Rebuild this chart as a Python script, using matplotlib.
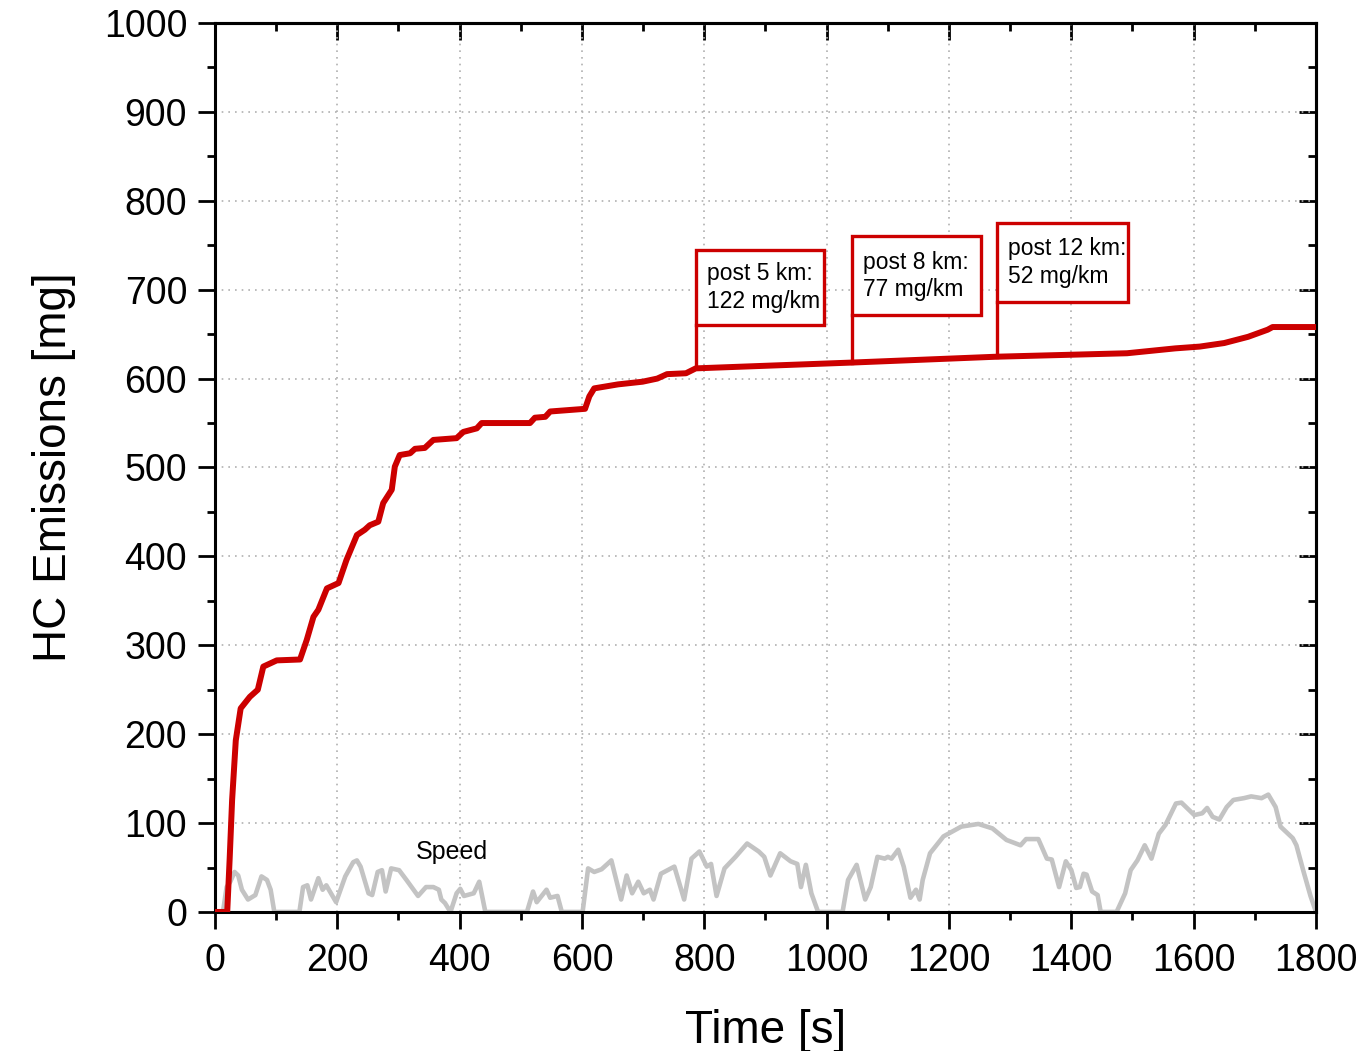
import matplotlib
matplotlib.use("Agg")
import matplotlib.pyplot as plt
import numpy as np
from matplotlib.patches import Rectangle
from matplotlib.ticker import MultipleLocator

plt.rcParams["font.family"] = ["Liberation Sans", "DejaVu Sans"]

# cumulative HC emissions [mg] over time [s]
hc_time = [0, 20, 24, 28, 34, 42, 57, 70, 79, 101, 139, 150, 161, 169, 183, 202,
           215, 232, 245, 253, 267, 275, 289, 294, 302, 319, 327, 343, 357, 395,
           406, 428, 436, 515, 523, 540, 548, 605, 612, 620, 659, 699, 723, 739,
           770, 786, 1040, 1277, 1491, 1570, 1610, 1650, 1689, 1721, 1729, 1800]
hc_mg = [0, 0, 60, 126, 193, 229, 242, 250, 276, 283, 284, 306, 332, 340, 364, 370,
         396, 424, 430, 435, 439, 460, 475, 501, 514, 516, 521, 522, 531, 533,
         540, 544, 550, 550, 556, 557, 563, 566, 580, 589, 593.5, 596.5, 600, 605,
         606, 611.5, 618, 624.6, 628.5, 634, 636, 640, 647, 655, 658, 658]

# vehicle speed trace (same axis scale)
speed_time = [0, 13, 19, 25, 32, 38, 44, 54, 66, 76, 85, 91, 97, 138, 144, 151,
              157, 169, 176, 182, 198, 213, 226, 232, 238, 251, 257, 266, 273, 279,
              288, 301, 313, 332, 345, 357, 366, 370, 376, 385, 395, 401, 407, 423,
              432, 442, 510, 520, 526, 542, 548, 560, 567, 601, 610, 620, 632, 648,
              664, 673, 682, 692, 701, 711, 717, 729, 751, 767, 779, 792, 804, 811,
              820, 833, 851, 870, 889, 898, 908, 924, 941, 952, 958, 966, 975, 986,
              1026, 1035, 1049, 1063, 1072, 1083, 1095, 1100, 1106, 1117, 1126, 1137,
              1146, 1152, 1157, 1169, 1191, 1220, 1248, 1271, 1294, 1317, 1326, 1346,
              1360, 1368, 1380, 1391, 1400, 1408, 1414, 1420, 1425, 1434, 1443, 1448,
              1474, 1488, 1497, 1508, 1520, 1531, 1543, 1554, 1571, 1580, 1601, 1614,
              1622, 1631, 1642, 1654, 1665, 1682, 1694, 1711, 1722, 1734, 1742, 1762,
              1768, 1779, 1791, 1800]
speed = [0, 0, 28, 34, 45, 41, 25, 14, 19, 40, 36, 25, 0, 0, 28, 30,
         14, 38, 25, 30, 11, 40, 56, 58, 51, 21, 19, 45, 47, 23,
         49, 47, 36, 18, 28, 28, 25, 14, 10, 0, 21, 26, 18, 21,
         34, 0, 0, 23, 11, 25, 16, 18, 0, 0, 49, 45, 48, 58,
         14, 41, 21, 34, 21, 25, 14, 43, 51, 14, 60, 68, 51, 54,
         18, 49, 62, 77, 68, 62, 41, 66, 57, 54, 28, 53, 21, 0,
         0, 36, 53, 14, 28, 62, 60, 62, 60, 70, 51, 16,
         25, 14, 36, 66, 85, 96, 99, 94, 81, 75, 82, 82,
         60, 59, 28, 57, 47, 27, 28, 43, 42, 23, 19, 0,
         0, 21, 47, 58, 75, 60, 88, 98, 122, 123, 109, 111,
         117, 107, 104, 118, 126, 128, 130, 128, 132, 118, 96, 83,
         75, 47, 18, 0]

# callout boxes: anchor time on the curve, box right edge, box bottom/top
callout_x = [787, 1042, 1279]
callout_box_right = [996, 1253, 1492]
callout_box_bottom = [660, 671, 686]
callout_box_top = [745, 760, 775]
callout_text = ["post 5 km:\n122 mg/km", "post 8 km:\n77 mg/km", "post 12 km:\n52 mg/km"]

red = "#CC0000"
grey = "#C3C3C3"

fig = plt.figure(figsize=(13.65, 10.51), dpi=100)
ax = fig.add_axes([0.1575, 0.1323, 0.8066, 0.8458])

ax.plot(speed_time, speed, color=grey, lw=3.3, zorder=2, solid_joinstyle="round")
ax.plot(hc_time, hc_mg, color=red, lw=4.3, zorder=3, solid_joinstyle="round")

for i, x0 in enumerate(callout_x):
    y_curve = float(np.interp(x0, hc_time, hc_mg))
    ax.plot([x0, x0], [y_curve, callout_box_bottom[i]], color=red, lw=2.4, zorder=4)
    ax.add_patch(Rectangle((x0, callout_box_bottom[i]), callout_box_right[i] - x0,
                           callout_box_top[i] - callout_box_bottom[i],
                           facecolor="white", edgecolor=red, lw=2.4, zorder=5))
    ax.text(x0 + 18, (callout_box_bottom[i] + callout_box_top[i]) / 2, callout_text[i],
            fontsize=16.5, ha="left", va="center", linespacing=1.25, zorder=6)

ax.text(388, 68, "Speed", fontsize=18, ha="center", va="center", zorder=6)

ax.set_xlim(0, 1800)
ax.set_ylim(0, 1000)
ax.xaxis.set_major_locator(MultipleLocator(200))
ax.xaxis.set_minor_locator(MultipleLocator(100))
ax.yaxis.set_major_locator(MultipleLocator(100))
ax.yaxis.set_minor_locator(MultipleLocator(50))
ax.grid(True, which="major", color="#B0B0B0", linestyle=(0, (1, 3)), lw=1.2, zorder=0)
ax.set_axisbelow(True)

for spine in ax.spines.values():
    spine.set_linewidth(2.2)

ax.tick_params(which="major", direction="out", length=12, width=2, labelsize=27)
ax.tick_params(axis="x", which="major", pad=10)
ax.tick_params(axis="y", which="major", pad=8)
ax.tick_params(which="minor", direction="out", length=6, width=2)

# inward ticks on the top and right edges
top = ax.secondary_xaxis("top")
top.xaxis.set_major_locator(MultipleLocator(200))
top.xaxis.set_minor_locator(MultipleLocator(100))
top.tick_params(which="major", direction="in", length=12, width=2, labeltop=False)
top.tick_params(which="minor", direction="in", length=6, width=2)
top.spines["top"].set_linewidth(2.2)
right = ax.secondary_yaxis("right")
right.yaxis.set_major_locator(MultipleLocator(100))
right.yaxis.set_minor_locator(MultipleLocator(50))
right.tick_params(which="major", direction="in", length=12, width=2, labelright=False)
right.tick_params(which="minor", direction="in", length=6, width=2)
right.spines["right"].set_linewidth(2.2)

ax.set_xlabel("Time [s]", fontsize=33, labelpad=22)
ax.set_ylabel("HC Emissions [mg]", fontsize=33, labelpad=20)

fig.savefig("out.png", dpi=100)
